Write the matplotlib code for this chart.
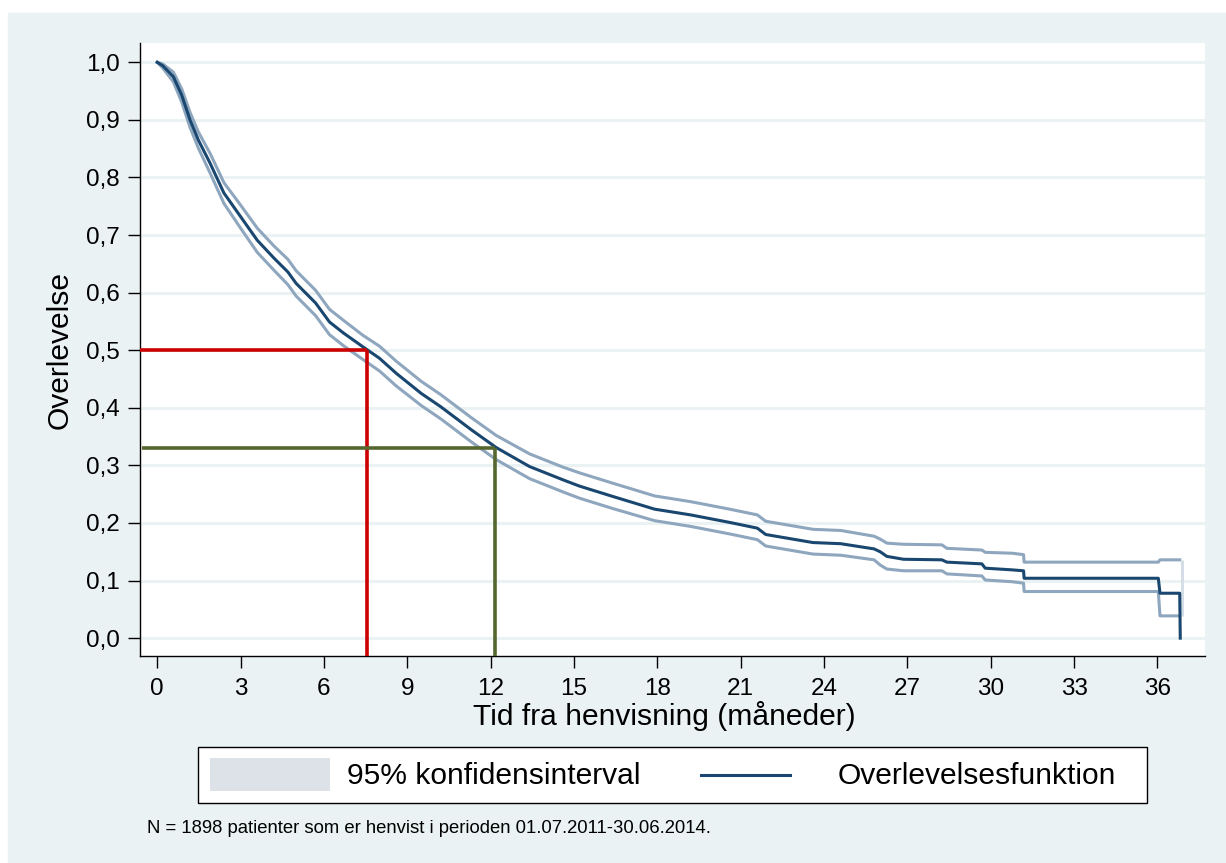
import matplotlib
matplotlib.use("Agg")
import matplotlib.pyplot as plt
import numpy as np
from matplotlib.patches import Rectangle
from matplotlib.lines import Line2D

plt.rcParams['font.family'] = ['Liberation Sans', 'DejaVu Sans']

# Kaplan-Meier estimate (months, survival)
time = [0.0, 0.2, 0.58, 0.88, 1.18, 1.48, 1.9, 2.4, 3.0, 3.6, 4.2, 4.7, 5.0,
        5.7, 6.2, 6.7, 7.4, 8.0, 8.6, 9.5, 10.2, 11.3, 12.2, 13.4, 14.6, 15.2,
        15.8, 16.4, 17.9, 19.2, 20.6, 21.6, 21.9, 23.6, 24.6, 25.8, 26.02,
        26.26, 26.86, 28.24, 28.42, 29.68, 29.8, 30.76, 31.18, 31.2, 36.03,
        36.09, 36.8, 36.82]
surv = [1.0, 0.994, 0.975, 0.943, 0.90, 0.865, 0.825, 0.773, 0.732,
        0.691, 0.66, 0.636, 0.616, 0.582, 0.549, 0.53, 0.506, 0.486, 0.46,
        0.425, 0.402, 0.362, 0.331, 0.298, 0.275, 0.264, 0.255, 0.246, 0.224,
        0.214, 0.201, 0.191, 0.18, 0.166, 0.164, 0.155, 0.150, 0.142, 0.137,
        0.136, 0.132, 0.129, 0.1215, 0.1186, 0.117, 0.104, 0.104, 0.078,
        0.078, 0.0]
ci_upper = [1.0, 0.997, 0.983, 0.954, 0.913, 0.879, 0.842, 0.791, 0.752,
            0.712, 0.681, 0.658, 0.638, 0.604, 0.571, 0.552, 0.526, 0.507,
            0.481, 0.446, 0.423, 0.383, 0.352, 0.32, 0.297, 0.287, 0.278,
            0.269, 0.247, 0.237, 0.224, 0.214, 0.203, 0.189, 0.187, 0.177,
            0.172, 0.165, 0.163, 0.162, 0.156, 0.153, 0.149, 0.1475, 0.145,
            0.132, 0.132, 0.136, 0.136, np.nan]
ci_lower = [1.0, 0.990, 0.966, 0.931, 0.887, 0.851, 0.808, 0.755, 0.712,
            0.67, 0.639, 0.614, 0.594, 0.56, 0.527, 0.508, 0.484, 0.464,
            0.438, 0.404, 0.381, 0.341, 0.31, 0.277, 0.254, 0.243, 0.234,
            0.225, 0.204, 0.194, 0.181, 0.171, 0.16, 0.146, 0.144, 0.136,
            0.127, 0.12, 0.117, 0.117, 0.1116, 0.108, 0.101, 0.098, 0.0955,
            0.081, 0.081, 0.0387, 0.0387, np.nan]
ci_end_time = 36.88

median_time, median_surv = 7.54, 0.5
oneyear_time, oneyear_surv = 12.16, 0.33

x_ticks = list(range(0, 37, 3))
y_ticks = [i / 10 for i in range(11)]
y_ticklabels = [("%.1f" % v).replace(".", ",") for v in y_ticks]

navy = "#1A476F"
ci_col = "#8EA6BE"
bg = "#EAF2F3"

W, H = 1226, 863
fig = plt.figure(figsize=(W / 100, H / 100), dpi=100, facecolor="white")
fig.patches.append(Rectangle((8 / W, 0), 1 - 8 / W, (H - 13) / H,
                             transform=fig.transFigure, color=bg, zorder=-10))

ax = fig.add_axes([140 / W, (H - 656) / H, (1205 - 140) / W, (656 - 43) / H])
ax.set_facecolor("white")
xmin, xmax = -0.62, 37.71
ymin, ymax = -0.031, 1.0335
ax.set_xlim(xmin, xmax)
ax.set_ylim(ymin, ymax)

for v in y_ticks:
    ax.axhline(v, color=bg, lw=2.2, zorder=0)

ax.plot(time, ci_upper, color=ci_col, lw=2.2, zorder=2)
ax.plot(time, ci_lower, color=ci_col, lw=2.2, zorder=2)
ax.vlines(ci_end_time, ci_lower[-2], ci_upper[-2], color="#D5DEE6", lw=2.2, zorder=2)
ax.plot(time, surv, color=navy, lw=2.2, zorder=3)

ax.hlines(median_surv, xmin, median_time, color="#CC0000", lw=2.6, zorder=4)
ax.vlines(median_time, ymin, median_surv, color="#CC0000", lw=2.6, zorder=4)
ax.hlines(oneyear_surv, xmin + 0.06, oneyear_time, color="#55672E", lw=2.6, zorder=4)
ax.vlines(oneyear_time, ymin, oneyear_surv, color="#55672E", lw=2.6, zorder=4)

for s in ["top", "right"]:
    ax.spines[s].set_visible(False)
for s in ["left", "bottom"]:
    ax.spines[s].set_linewidth(1.0)
    ax.spines[s].set_color("black")

ax.set_xticks(x_ticks)
ax.set_xticklabels([str(t) for t in x_ticks], fontsize=17.5)
ax.set_yticks(y_ticks)
ax.set_yticklabels(y_ticklabels, fontsize=17.5)
ax.tick_params(axis="x", length=8.5, width=1.0, pad=7)
ax.tick_params(axis="y", length=9, width=1.0, pad=5.5)

fig.text(664 / W, 1 - 716 / H, "Tid fra henvisning (måneder)", fontsize=21.6,
         ha="center", va="center")
fig.text(60 / W, 1 - 350 / H, "Overlevelse", fontsize=21.6, rotation=90,
         ha="center", va="center")

# legend drawn by hand in figure pixels
def fx(x):
    return x / W

def fy(y):
    return 1 - y / H

fig.patches.append(Rectangle((fx(198), fy(803)), fx(1147) - fx(198), fy(747) - fy(803),
                             transform=fig.transFigure, facecolor="white",
                             edgecolor="black", lw=1.0, zorder=5))
fig.patches.append(Rectangle((fx(210), fy(791)), fx(330) - fx(210), fy(758) - fy(791),
                             transform=fig.transFigure, facecolor="#DDE2E9",
                             edgecolor="none", zorder=6))
fig.text(fx(347), fy(776), "95% konfidensinterval", fontsize=21.6, va="center",
         ha="left", zorder=7)
fig.lines.append(Line2D([fx(701), fx(790)], [fy(775), fy(775)], transform=fig.transFigure,
                        color=navy, lw=2.2, zorder=6))
fig.text(fx(838), fy(776), "Overlevelsesfunktion", fontsize=21.6, va="center",
         ha="left", zorder=7)

fig.text(fx(147), fy(828), "N = 1898 patienter som er henvist i perioden 01.07.2011-30.06.2014.",
         fontsize=13.35, va="center", ha="left", zorder=7)

fig.savefig("out.png", dpi=100, facecolor="white")
